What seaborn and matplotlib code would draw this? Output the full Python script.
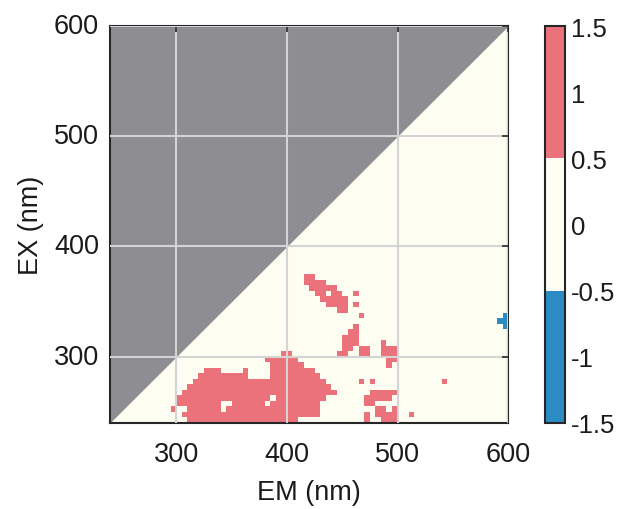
import numpy as np
import pandas as pd
import seaborn as sns
from matplotlib import pyplot as plt
from matplotlib.colors import ListedColormap

# EEM sign map on a 5 nm grid (cell = [value, value + 5))
em = np.arange(240, 600, 5)
ex = np.arange(240, 600, 5)

# rows, from EX 375 (top) down to EX 240 (bottom)
# '+' = 1 (red), '-' = -1 (blue), '.' = 0 ; above EX 375 everything is 0
sign_rows = [
    "............ ............ ............ ............ ............ ............",
    "............ ............ ...........+ +........... ............ ............",
    "............ ............ ...........+ +++......... ............ ............",
    "............ ............ ............ +++++....... ............ ............",
    "............ ............ ............ .++.++..+... ............ ............",
    "............ ............ ............ ..+++++..... ............ ............",
    "............ ............ ............ ...++++.+... ............ ............",
    "............ ............ ............ .....++..... ............ ............",
    "............ ............ ............ .........+.. ............ ...........-",
    "............ ............ ............ ............ ............ ..........--",
    "............ ............ ............ ........+... ............ ...........-",
    "............ ............ ............ .......++... ............ ............",
    "............ ............ ............ ......+++... ............ ............",
    "............ ............ ............ ......+++... .+.......... ............",
    "............ ............ ............ ......++.++. .+++........ ............",
    "............ ............ .......++... .....++..++. .+++........ ............",
    "............ ............ ....++++++.. ............ ..++........ ............",
    "............ ............ .....++++++. ............ ..+......... ............",
    "............ .....+++.... +....+++++++ +........... ............ ............",
    "............ ....++++++++ +....+++++++ ++.......... ............ ............",
    "............ ...+++++++++ ++++++++++++ +++......+.+ ............ +...........",
    "............ ..++++++++++ ++++++++++++ ++++........ ............ ............",
    "............ .+++++++++++ ++++++++++++ +++++......+ ++++........ ............",
    "............ ++++++++++++ +++++.++++++ +++.......++ +++......... ............",
    "............ ++++++++..++ ++++.+++++++ ++........++ ............ ............",
    "...........+ ..++++++.+++ ++++++++++++ ++.......... ++.+........ ............",
    "............ .+++++++++++ ++++++++++++ ++........+. ++++..+..... ............",
    "............ ..++++++++++ ++++++++++.. ..........+. .+++........ ............",
]
symbols = {'.': 0, '+': 1, '-': -1}

axis_ticks = [300, 400, 500, 600]
cbar_ticks = [-1.5, -1, -0.5, 0, 0.5, 1, 1.5]
cbar_labels = ['-1.5', '-1', '-0.5', '0', '0.5', '1', '1.5']

values = np.zeros((len(ex), len(em)))
for i, row in enumerate(reversed(sign_rows)):
    values[i] = [symbols[ch] for ch in row.replace(' ', '')]
df = pd.DataFrame(values, index=ex, columns=em)

sns.set_style('white')
plt.rcParams['font.family'] = ['Liberation Sans', 'DejaVu Sans']
plt.rcParams['axes.unicode_minus'] = False

cmap = ListedColormap(['#2b8cc4', '#fdfdf2', '#eb727a'])
gray = '#8d8d92'
edge = '#262626'
txt = '#1a1a1a'

fig = plt.figure(figsize=(6.25, 5.1), dpi=100)
ax = fig.add_axes([0.176, 0.169, 0.637, 0.778])
cax = fig.add_axes([0.872, 0.169, 0.032, 0.778])

sns.heatmap(df, cmap=cmap, vmin=-1.5, vmax=1.5, ax=ax, cbar_ax=cax)
ax.set_ylim(0, len(ex))

# region EX > EM is not measured
idx = np.arange(len(em) + 1)
ax.fill_between(idx, idx, len(ex), color=gray, lw=0, zorder=1.5)

# nm -> cell position
em_edges = np.append(em, em[-1] + 5)
ex_edges = np.append(ex, ex[-1] + 5)
xpos = np.interp(axis_ticks, em_edges, np.arange(len(em_edges)))
ypos = np.interp(axis_ticks, ex_edges, np.arange(len(ex_edges)))
labels = [str(t) for t in axis_ticks]
ax.set_xticks(xpos, labels=labels, rotation=0)
ax.set_yticks(ypos, labels=labels, rotation=0, va='center')

ax.grid(True, color='#d4d4d4', lw=1.5)
ax.set_axisbelow(False)
for s in ax.spines.values():
    s.set_visible(True)
    s.set_color(edge)
    s.set_linewidth(1.5)
ax.tick_params(direction='in', top=True, right=True, length=4, width=1.2,
               color=edge, labelsize=19.5, labelcolor=txt)
ax.tick_params(axis='x', pad=13)
ax.tick_params(axis='y', pad=8)
ax.set_xlabel('EM (nm)', fontsize=19.5, color=txt, labelpad=9)
ax.set_ylabel('EX (nm)', fontsize=19.5, color=txt, labelpad=7)

cbar = ax.collections[0].colorbar
cbar.set_ticks(cbar_ticks, labels=cbar_labels)
cbar.outline.set_visible(True)
cbar.outline.set_linewidth(1.5)
cbar.outline.set_edgecolor(edge)
cax.tick_params(direction='in', length=4, width=1.2, color=edge,
                labelsize=18.5, pad=4, labelcolor=txt)

fig.savefig('out.png', dpi=100)
